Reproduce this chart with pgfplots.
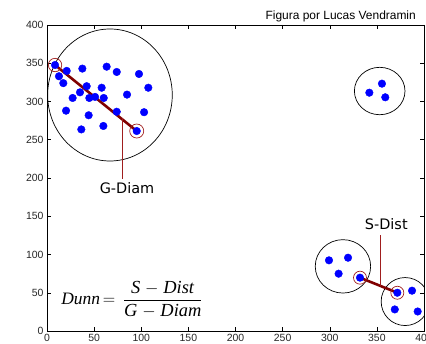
\documentclass[border=0pt]{standalone}
\usepackage{fontspec}
\setmainfont{Liberation Sans}
\newfontfamily\djv{DejaVu Sans}
\newfontfamily\tnr{Liberation Serif}
\usepackage{pgfplots}
\pgfplotsset{compat=1.18}
\definecolor{dotblue}{RGB}{0,0,255}
\definecolor{linered}{RGB}{128,0,0}
\definecolor{ringred}{RGB}{160,30,30}
\begin{document}
\begin{tikzpicture}
\begin{axis}[
  at={(0,0)}, anchor=south west,
  scale only axis, width=377bp, height=306bp,
  xmin=0, xmax=400, ymin=0, ymax=400,
  xtick={0,50,...,400}, ytick={0,50,...,400},
  tick align=inside, major tick length=4bp,
  tick style={black, line width=0.5pt},
  axis line style={line width=0.6pt},
  ticklabel style={font=\fontsize{10.5}{12}\selectfont, text=black!85},
  /pgf/number format/assume math mode=true,
]
% cluster circles
\draw[black, line width=0.7pt] (axis cs:66.8,308.5) ellipse [x radius=62.3bp, y radius=66bp];
\draw[black, line width=0.7pt] (axis cs:353,313.7) ellipse [x radius=25.3bp, y radius=23.7bp];
\draw[black, line width=0.7pt] (axis cs:314,84.5) ellipse [x radius=27.7bp, y radius=26.7bp];
\draw[black, line width=0.7pt] (axis cs:380,38.5) ellipse [x radius=24bp, y radius=24bp];
% G-Diam and S-Dist lines
\addplot[linered, line width=2.6pt, forget plot] coordinates {(8.5,347.7) (95.2,261.4)};
\addplot[linered, line width=2.6pt, forget plot] coordinates {(332.1,69.7) (371.7,50)};
\addplot[ringred, line width=0.8pt, forget plot] coordinates {(80.3,278) (80.3,199)};
\addplot[ringred, line width=0.8pt, forget plot] coordinates {(353.7,59) (353.7,126)};
% points
\addplot[only marks, mark=*, mark size=3.8bp, mark options={draw=dotblue, fill=dotblue}] coordinates {
(8.5,347.7) (12.7,333) (20.9,340) (17.3,324) (37.5,343) (63.3,345.5) (74,338.6)
(97.6,336) (107.5,318) (84.9,309) (42.1,320) (35,312) (27.2,304.6) (44.9,304.6)
(58,318) (60.2,304.6) (51,306) (20.2,288) (44.2,282) (74,286.6) (103,286)
(36.4,263.5) (59.8,268) (95.2,261.4)
(355.4,323.3) (342,311.5) (358.9,305.5)
(299.2,92.4) (319.4,95.8) (309.4,74.9) (332.1,69.7)
(371.7,50) (387.3,52.7) (369,28.2) (393.3,25.5)
};
% red rings around endpoints
\draw[ringred, line width=0.7pt] (axis cs:8.5,347.7) circle [radius=6.7bp];
\draw[ringred, line width=0.7pt] (axis cs:95.2,261.4) circle [radius=7bp];
\draw[ringred, line width=0.7pt] (axis cs:332.1,69.7) circle [radius=6.5bp];
\draw[ringred, line width=0.7pt] (axis cs:371.7,50) circle [radius=6.5bp];
% labels
\node[font=\djv\fontsize{14.5}{16}\selectfont, inner sep=0pt] at (axis cs:84.9,186.9) {G-Diam};
\node[font=\djv\fontsize{14.5}{16}\selectfont, inner sep=0pt] at (axis cs:360,140.3) {S-Dist};
\node[anchor=west, inner sep=0pt, font=\tnr\fontsize{17.5}{20}\selectfont] at (axis cs:15,41)
  {\textit{Dunn}$\,=\,\displaystyle\frac{\hbox{\fontsize{18.5}{20}\selectfont\textit{S}}\;{-}\;\hbox{\fontsize{18.5}{20}\selectfont\textit{Dist}}}{\hbox{\fontsize{18.5}{20}\selectfont\textit{G}}\;{-}\;\hbox{\fontsize{18.5}{20}\selectfont\textit{Diam}}}$};
\end{axis}
\node[anchor=base east, inner sep=0pt, font=\fontsize{12}{14}\selectfont] at (369bp,311bp) {Figura por Lucas Vendramin};
\pgfresetboundingbox
\useasboundingbox (-47bp,-13bp) rectangle (379bp,331bp);
\end{tikzpicture}
\end{document}
